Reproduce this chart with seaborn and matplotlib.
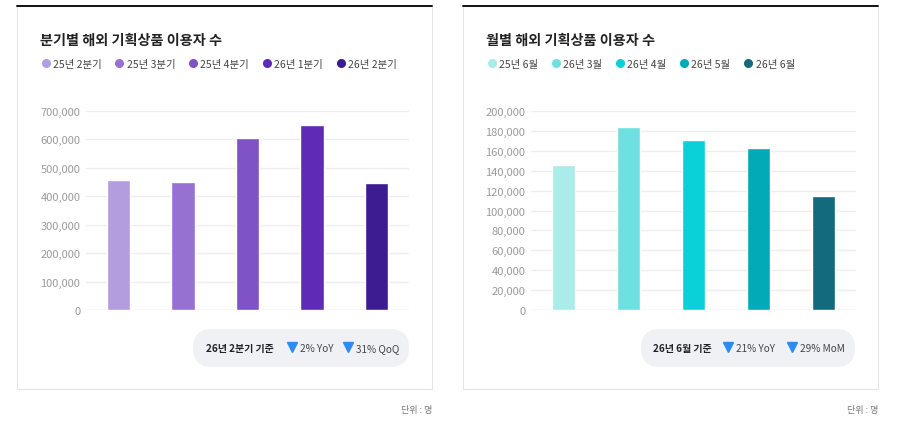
import matplotlib
matplotlib.use("Agg")
import matplotlib.pyplot as plt
from matplotlib.patches import Rectangle, FancyBboxPatch
from matplotlib.lines import Line2D
from matplotlib.ticker import FuncFormatter
import seaborn as sns
import pandas as pd

# ---------------- data ----------------
q_labels = ["25년 2분기", "25년 3분기", "25년 4분기", "26년 1분기", "26년 2분기"]
q_values = [457000, 451000, 605000, 652000, 448000]
q_colors = ["#b39ddf", "#9671d2", "#7f52c5", "#5f2ab6", "#3d1c91"]
q_ticks = [0, 100000, 200000, 300000, 400000, 500000, 600000, 700000]

m_labels = ["25년 6월", "26년 3월", "26년 4월", "26년 5월", "26년 6월"]
m_values = [145700, 184000, 171000, 162400, 115000]
m_colors = ["#aaece9", "#6fe0e2", "#0ad1d8", "#00abb7", "#126a7c"]
m_ticks = [0, 20000, 40000, 60000, 80000, 100000, 120000, 140000, 160000, 180000, 200000]

titles = ["분기별 해외 기획상품 이용자 수", "월별 해외 기획상품 이용자 수"]
badge_heads = ["26년 2분기 기준", "26년 6월 기준"]
badge_items = [["2% YoY", "31% QoQ"], ["21% YoY", "29% MoM"]]
unit_text = "단위 : 명"

# ---------------- setup ----------------
sns.set_theme(style="white")
plt.rcParams["font.family"] = ["Noto Sans CJK KR", "DejaVu Sans"]

W, H = 899, 431
fig = plt.figure(figsize=(W / 100, H / 100), dpi=100)
fig.patch.set_facecolor("white")
inch = fig.dpi_scale_trans


def P(x, y):
    return (x / 100.0, (H - y) / 100.0)


def fx(x):
    return x / W


def fy(y):
    return 1 - y / H


panels = [
    dict(x0=17, x1=432, ax=(86, 409, 112, 311), labels=q_labels, values=q_values,
         colors=q_colors, ticks=q_ticks, badge=(193, 409), head_x=206,
         tri=[292, 348]),
    dict(x0=463, x1=878, ax=(531, 856, 112, 311), labels=m_labels, values=m_values,
         colors=m_colors, ticks=m_ticks, badge=(641, 855), head_x=653,
         tri=[728, 792]),
]

for i, p in enumerate(panels):
    x0, x1 = p["x0"], p["x1"]
    # panel border
    fig.patches.append(Rectangle(P(x0, 390), (x1 - x0) / 100, (390 - 7) / 100,
                                 transform=inch, facecolor="white",
                                 edgecolor="#e4e4e4", lw=0.8, zorder=-5))
    # black top rule
    fig.add_artist(Line2D([x0 / 100, x1 / 100], [(H - 7) / 100] * 2,
                          transform=inch, color="#111111", lw=1.4, zorder=2))
    # title
    fig.text(fx(x0 + 23), fy(41), titles[i], fontsize=10.2, fontweight="bold",
             color="#222222", ha="left", va="center")

    # axes
    ax_l, ax_r, ax_t, ax_b = p["ax"]
    ax = fig.add_axes([fx(ax_l), fy(ax_b), (ax_r - ax_l) / W, (ax_b - ax_t) / H])
    df = pd.DataFrame({"cat": p["labels"], "val": p["values"]})
    sns.barplot(data=df, x="cat", y="val", hue="cat", palette=p["colors"],
                order=p["labels"], hue_order=p["labels"], dodge=False,
                width=0.36, legend=False, ax=ax, saturation=1, zorder=3)
    ax.set_xlim(-0.5, 4.5)
    ax.set_ylim(0, p["ticks"][-1])
    ax.set_yticks(p["ticks"])
    ax.yaxis.set_major_formatter(FuncFormatter(lambda v, _: f"{int(v):,}"))
    ax.set_xticks([])
    ax.set_xlabel("")
    ax.set_ylabel("")
    for s in ax.spines.values():
        s.set_visible(False)
    ax.tick_params(axis="y", length=0, pad=4, labelsize=8, labelcolor="#9a9a9a")
    ax.grid(axis="y", color="#eeeeee", lw=1, zorder=0)
    ax.set_axisbelow(True)
    ax.patch.set_alpha(0)
    ax.axhline(0, color="#e6e6e6", lw=1, zorder=1)

    # legend
    handles = [Line2D([], [], marker="o", linestyle="", markersize=5.5,
                      markerfacecolor=c, markeredgecolor=c) for c in p["colors"]]
    leg = ax.legend(handles, p["labels"], ncol=5, frameon=False,
                    loc="center left", bbox_to_anchor=(fx(x0 + 25), fy(65)),
                    bbox_transform=fig.transFigure, fontsize=7.5,
                    handlelength=0.7, handletextpad=0.35, columnspacing=1.35,
                    borderpad=0, borderaxespad=0)
    for t in leg.get_texts():
        t.set_color("#444444")

    # badge
    bx0, bx1 = p["badge"]
    fig.patches.append(FancyBboxPatch(P(bx0, 368), (bx1 - bx0) / 100, 0.38,
                                      boxstyle="round,pad=0,rounding_size=0.19",
                                      transform=inch, facecolor="#f0f1f5",
                                      edgecolor="none", zorder=1))
    fig.text(fx(p["head_x"]), fy(349), badge_heads[i], fontsize=7.2,
             fontweight="bold", color="#222222", ha="left", va="center")
    for tx, lab in zip(p["tri"], badge_items[i]):
        fig.add_artist(Line2D([tx / 100], [(H - 348) / 100], transform=inch,
                              marker="v", markersize=6.5, color="#2d8cf0",
                              markeredgecolor="#2d8cf0", linestyle=""))
        fig.text(fx(tx + 8), fy(349), lab, fontsize=7.2, color="#444444",
                 ha="left", va="center")

    # unit
    fig.text(fx(x1), fy(411), unit_text, fontsize=6.5, color="#777777",
             ha="right", va="center")

fig.savefig("out.png", dpi=100, facecolor="white")
